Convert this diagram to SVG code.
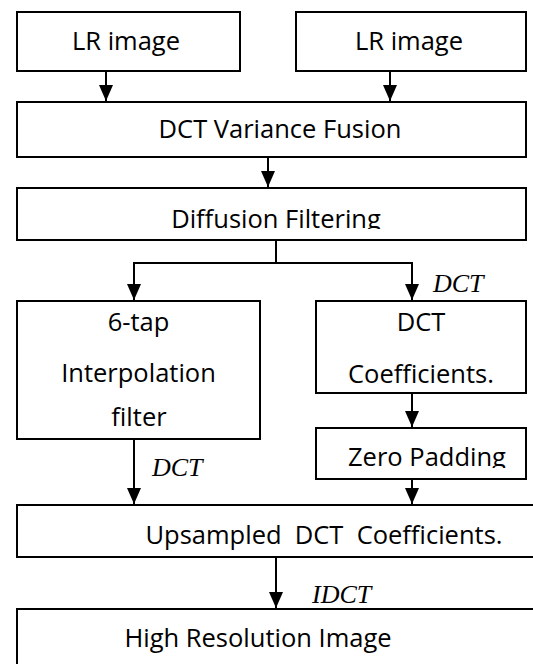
<svg xmlns="http://www.w3.org/2000/svg" width="533" height="664" viewBox="0 0 533 664">
  <defs>
    <style>
      .box { fill: #ffffff; stroke: #000000; stroke-width: 2; }
      .lbl { font-family: "Open Sans", "Liberation Sans", sans-serif; font-size: 25.5px; fill: #000000; text-anchor: middle; }
      .op { font-family: "Liberation Serif", "Times New Roman", serif; font-style: italic; font-size: 26px; fill: #000000; }
      .wire { fill: none; stroke: #000000; stroke-width: 2; }
    </style>
    <marker id="arrow" viewBox="0 0 16 14" refX="16" refY="7" markerWidth="16" markerHeight="14" markerUnits="userSpaceOnUse" orient="auto">
      <path d="M0,0 L16,7 L0,14 Z" fill="#000000"/>
    </marker>
    <clipPath id="clipDiff"><rect x="0" y="188" width="533" height="41"/></clipPath>
    <clipPath id="clipZero"><rect x="0" y="428" width="533" height="40"/></clipPath>
  </defs>

  <g id="lr-image-1">
    <rect class="box" x="17" y="12" width="223" height="59"/>
    <text class="lbl" x="126" y="50">LR image</text>
  </g>
  <g id="lr-image-2">
    <rect class="box" x="296" y="12" width="230" height="59"/>
    <text class="lbl" x="409" y="50">LR image</text>
  </g>
  <g id="dct-variance-fusion">
    <rect class="box" x="17" y="102" width="509" height="55"/>
    <text class="lbl" x="280" y="138">DCT Variance Fusion</text>
  </g>
  <g id="diffusion-filtering">
    <rect class="box" x="17" y="188" width="509" height="52"/>
    <text class="lbl" x="276" y="228" clip-path="url(#clipDiff)">Diffusion Filtering</text>
  </g>
  <g id="interpolation-filter">
    <rect class="box" x="17" y="301" width="243" height="138"/>
    <text class="lbl" x="138.5" y="331">6-tap</text>
    <text class="lbl" x="138.5" y="382">Interpolation</text>
    <text class="lbl" x="139" y="426">filter</text>
  </g>
  <g id="dct-coefficients">
    <rect class="box" x="316" y="301" width="210" height="92"/>
    <text class="lbl" x="421" y="331">DCT</text>
    <text class="lbl" x="421" y="383">Coefficients.</text>
  </g>
  <g id="zero-padding">
    <rect class="box" x="316" y="428" width="210" height="51"/>
    <text class="lbl" x="427" y="466" clip-path="url(#clipZero)">Zero Padding</text>
  </g>
  <g id="upsampled-dct">
    <rect class="box" x="17" y="505" width="530" height="52"/>
    <text class="lbl" x="324" y="543.5" xml:space="preserve">Upsampled  DCT  Coefficients.</text>
  </g>
  <g id="high-resolution-image">
    <rect class="box" x="17" y="609" width="530" height="70"/>
    <text class="lbl" x="258" y="647">High Resolution Image</text>
  </g>

  <g id="connectors">
    <line class="wire" x1="106" y1="71" x2="106" y2="101" marker-end="url(#arrow)"/>
    <line class="wire" x1="390" y1="71" x2="390" y2="101" marker-end="url(#arrow)"/>
    <line class="wire" x1="268" y1="157" x2="268" y2="187" marker-end="url(#arrow)"/>
    <polyline class="wire" points="276,240 276,263 134,263 134,300" marker-end="url(#arrow)"/>
    <polyline class="wire" points="276,263 412,263 412,300" marker-end="url(#arrow)"/>
    <line class="wire" x1="412" y1="393" x2="412" y2="427" marker-end="url(#arrow)"/>
    <line class="wire" x1="412" y1="479" x2="412" y2="504" marker-end="url(#arrow)"/>
    <line class="wire" x1="134" y1="439" x2="134" y2="504" marker-end="url(#arrow)"/>
    <line class="wire" x1="276" y1="557" x2="276" y2="608" marker-end="url(#arrow)"/>
  </g>

  <g id="transform-labels">
    <text class="op" x="433" y="292">DCT</text>
    <text class="op" x="152" y="476">DCT</text>
    <text class="op" x="312" y="603">IDCT</text>
  </g>
</svg>
